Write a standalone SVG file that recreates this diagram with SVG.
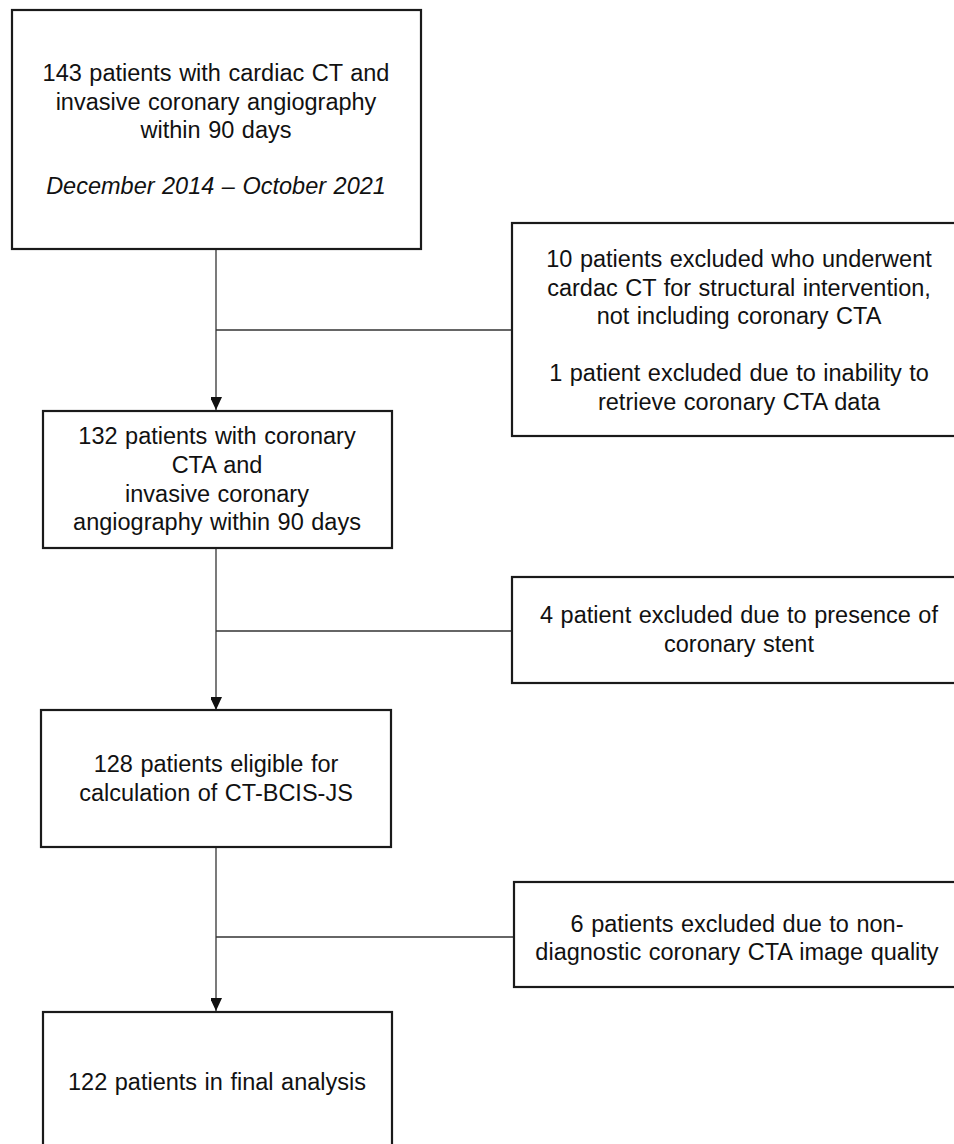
<svg xmlns="http://www.w3.org/2000/svg" width="954" height="1144" viewBox="0 0 954 1144">
<defs>
<marker id="arr" markerWidth="13" markerHeight="11" refX="13" refY="6" orient="auto" markerUnits="userSpaceOnUse">
<path d="M0,0 L13,6 L0,12 Z" fill="#111"/>
</marker>
<style>
.box{fill:#fff;stroke:#1a1a1a;stroke-width:2.2}
.t{font-family:"Liberation Sans",Arial,sans-serif;font-size:23.5px;fill:#111;text-anchor:middle;word-spacing:1px}
.i{font-style:italic}
.c{stroke:#333;stroke-width:1.3;fill:none}
</style>
</defs>
<rect width="954" height="1144" fill="#fff"/>
<g id="connectors">
<line class="c" x1="216" y1="249" x2="216" y2="410" marker-end="url(#arr)"/>
<line class="c" x1="216" y1="330" x2="512" y2="330"/>
<line class="c" x1="216" y1="548" x2="216" y2="710" marker-end="url(#arr)"/>
<line class="c" x1="216" y1="631" x2="512" y2="631"/>
<line class="c" x1="216" y1="847" x2="216" y2="1011" marker-end="url(#arr)"/>
<line class="c" x1="216" y1="937" x2="514" y2="937"/>
</g>
<g id="n1">
<rect class="box" x="12" y="10" width="409" height="239"/>
<text class="t" x="216" y="81">143 patients with cardiac CT and</text>
<text class="t" x="216" y="110">invasive coronary angiography</text>
<text class="t" x="216" y="138">within 90 days</text>
<text class="t i" x="216" y="194">December 2014 – October 2021</text>
</g>
<g id="e1">
<rect class="box" x="512" y="223" width="460" height="213"/>
<text class="t" x="739" y="267">10 patients excluded who underwent</text>
<text class="t" x="739" y="296">cardac CT for structural intervention,</text>
<text class="t" x="739" y="324">not including coronary CTA</text>
<text class="t" x="739" y="381">1 patient excluded due to inability to</text>
<text class="t" x="739" y="410">retrieve coronary CTA data</text>
</g>
<g id="n2">
<rect class="box" x="43" y="411" width="349" height="137"/>
<text class="t" x="217" y="444">132 patients with coronary</text>
<text class="t" x="217" y="473">CTA and</text>
<text class="t" x="217" y="502">invasive coronary</text>
<text class="t" x="217" y="530">angiography within 90 days</text>
</g>
<g id="e2">
<rect class="box" x="512" y="577" width="460" height="106"/>
<text class="t" x="739" y="623">4 patient excluded due to presence of</text>
<text class="t" x="739" y="652">coronary stent</text>
</g>
<g id="n3">
<rect class="box" x="41" y="710" width="350" height="137"/>
<text class="t" x="216" y="772">128 patients eligible for</text>
<text class="t" x="216" y="801">calculation of CT-BCIS-JS</text>
</g>
<g id="e3">
<rect class="box" x="514" y="882" width="460" height="105"/>
<text class="t" x="737" y="932">6 patients excluded due to non-</text>
<text class="t" x="737" y="960">diagnostic coronary CTA image quality</text>
</g>
<g id="n4">
<rect class="box" x="43" y="1012" width="349" height="150"/>
<text class="t" x="217" y="1090">122 patients in final analysis</text>
</g>
</svg>
